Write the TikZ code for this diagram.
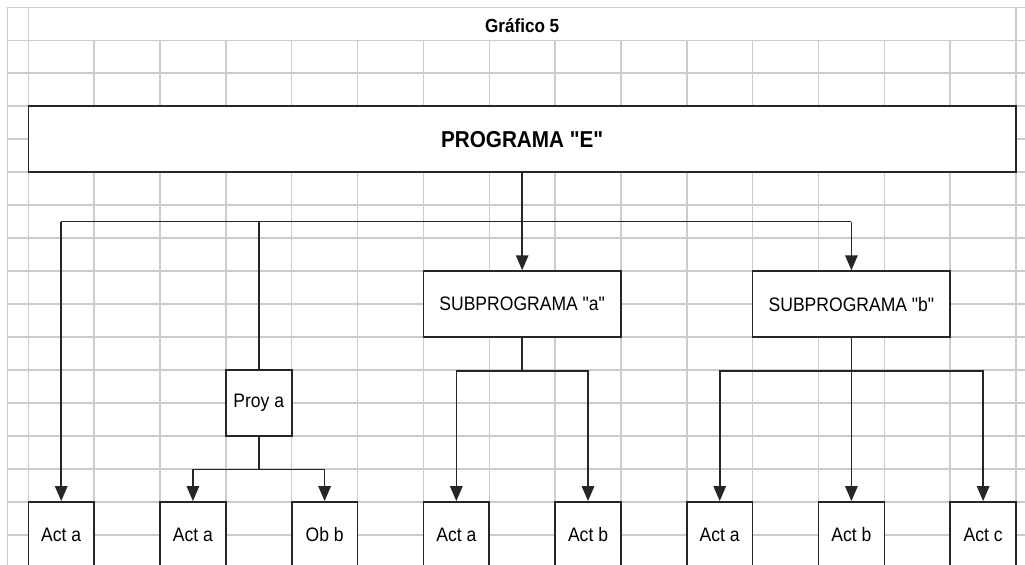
\documentclass[tikz,border=0pt]{standalone}
\usepackage{fontspec}
\setmainfont{Liberation Sans}
\newfontfamily\letra[FakeStretch=0.9]{Liberation Sans}
\usetikzlibrary{arrows.meta}

\tikzset{
  rejilla/.style={gray!40, line width=1.5pt},
  linea/.style={black!85, line width=1.6pt},
  caja/.style={draw=black!85, line width=1.6pt, fill=white, inner sep=0pt,
    minimum width=65.85pt, minimum height=65.94pt,
    font=\letra\fontsize{19.5}{22}\selectfont},
  cajaancha/.style={caja, minimum width=197.55pt},
  titulo/.style={font=\letra\bfseries\fontsize{19}{22}\selectfont}
}

\begin{document}
\begin{tikzpicture}[x=65.85pt, y=-32.97pt, >={Triangle[length=15pt,width=12.5pt]}]
    % 页面范围
    \fill[white] (-0.4298,-0.2214) rectangle (15.136,16.915);
    \clip (-0.4298,-0.2214) rectangle (15.136,16.915);

    % 绘制网格
    \foreach \r in {0,...,16}
        \draw[rejilla] (-0.319,\r) -- (15.2,\r);
    \foreach \c in {-0.319,0,15}
        \draw[rejilla] (\c,0) -- (\c,17);
    \foreach \c in {1,...,14}
        \draw[rejilla] (\c,1) -- (\c,17);

    % 标题
    \node[titulo] (tit) at (7.5,0.55) {Gráfico 5};

    % 各个方框
    \node[caja, minimum width=987.75pt, font=\letra\bfseries\fontsize{23}{26}\selectfont] (progE) at (7.5,4) {PROGRAMA "E"};
    \node[cajaancha] (subA) at (7.5,9) {SUBPROGRAMA "a"};
    \node[cajaancha] (subB) at (12.5,9) {SUBPROGRAMA "b"};
    \node[caja] (proyA) at (3.5,12) {Proy a};

    \node[caja] (act0) at (0.5,16) {Act a};
    \node[caja] (actPa) at (2.5,16) {Act a};
    \node[caja] (obPb) at (4.5,16) {Ob b};
    \node[caja] (actSa) at (6.5,16) {Act a};
    \node[caja] (actSb) at (8.5,16) {Act b};
    \node[caja] (actBa) at (10.5,16) {Act a};
    \node[caja] (actBb) at (12.5,16) {Act b};
    \node[caja] (actBc) at (14.5,16) {Act c};

    % 主程序的分支
    \draw[linea, ->] (progE.south) -- (subA.north);
    \draw[linea] (act0.north |- 0,6.5) coordinate (busL) -- (subB.north |- 0,6.5) coordinate (busR);
    \draw[linea, ->] (busL) -- (act0.north);
    \draw[linea, ->] (busR) -- (subB.north);
    \draw[linea] (proyA.north |- busL) -- (proyA.north);

    % Proy a 的分支
    \draw[linea, ->] (proyA.south) -- ++(0,1) -| (actPa.north);
    \draw[linea, ->] (proyA.south) -- ++(0,1) -| (obPb.north);

    % 子程序 a
    \draw[linea, ->] (subA.south) -- ++(0,1) -| (actSa.north);
    \draw[linea, ->] (subA.south) -- ++(0,1) -| (actSb.north);

    % 子程序 b
    \draw[linea, ->] (subB.south) -- ++(0,1) -| (actBa.north);
    \draw[linea, ->] (subB.south) -- (actBb.north);
    \draw[linea, ->] (subB.south) -- ++(0,1) -| (actBc.north);
\end{tikzpicture}
\end{document}
